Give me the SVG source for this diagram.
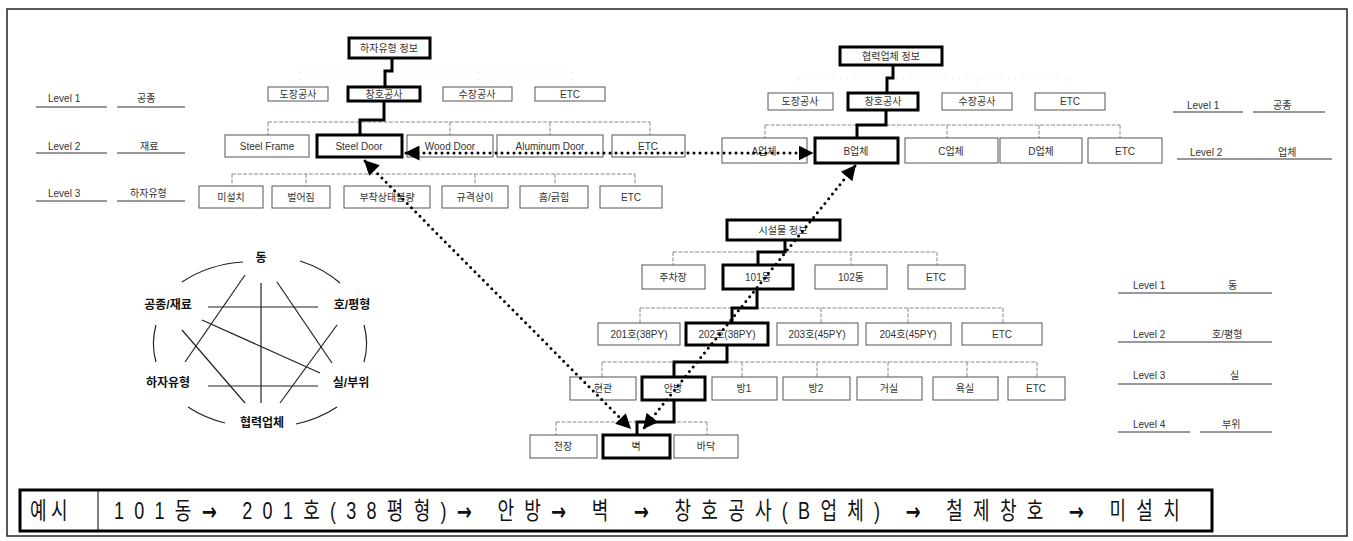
<svg xmlns="http://www.w3.org/2000/svg" width="1353" height="541" viewBox="0 0 1353 541">
  <defs>
    <style>
      text { font-family: "Liberation Sans", "Noto Sans CJK KR", sans-serif; }
      .frame { fill: none; stroke: #222; stroke-width: 1.5; }
      .box { fill: #fff; stroke: #555; stroke-width: 1; }
      .bold { fill: #fff; stroke: #000; stroke-width: 3; }
      .t { font-size: 10px; fill: #333; text-anchor: middle; dominant-baseline: central; }
      .bus { fill: none; stroke: #8a8a8a; stroke-width: 1; stroke-dasharray: 4 1.5; }
      .faint { fill: none; stroke: #dcdcdc; stroke-width: 1; stroke-dasharray: 1 6; }
      .main { fill: none; stroke: #000; stroke-width: 3; stroke-linejoin: miter; }
      .dots { fill: none; stroke: #000; stroke-width: 3; stroke-linecap: round; stroke-dasharray: 0 6; }
      .lvl { font-size: 10px; fill: #333; }
      .ul { stroke: #333; stroke-width: 1; }
      .cl { font-size: 12px; font-weight: bold; fill: #111; text-anchor: middle; dominant-baseline: central; }
      .arc { fill: none; stroke: #222; stroke-width: 1.2; }
      .ln { stroke: #222; stroke-width: 1.2; }
      .ex { font-size: 24px; fill: #111; dominant-baseline: central; }
      .arw { font-family: "DejaVu Sans", sans-serif; font-weight: bold; }
    </style>
    <marker id="tip" viewBox="0 0 10 10" refX="9" refY="5" markerWidth="5" markerHeight="5" orient="auto-start-reverse" markerUnits="strokeWidth">
      <path d="M0,0 L10,5 L0,10 z" fill="#000"/>
    </marker>
  </defs>

  <rect class="frame" x="7" y="9" width="1340" height="527"/>

  <!-- level legends -->
  <g id="legend-defect">
    <text class="lvl" x="48" y="102">Level 1</text><line class="ul" x1="36" y1="107" x2="107" y2="107"/>
    <text class="lvl" x="137" y="102">공종</text><line class="ul" x1="117" y1="107" x2="185" y2="107"/>
    <text class="lvl" x="48" y="150">Level 2</text><line class="ul" x1="36" y1="153" x2="107" y2="153"/>
    <text class="lvl" x="140" y="150">재료</text><line class="ul" x1="117" y1="153" x2="185" y2="153"/>
    <text class="lvl" x="48" y="197">Level 3</text><line class="ul" x1="36" y1="201" x2="107" y2="201"/>
    <text class="lvl" x="130" y="197">하자유형</text><line class="ul" x1="117" y1="201" x2="185" y2="201"/>
  </g>
  <g id="legend-partner">
    <text class="lvl" x="1187" y="109">Level 1</text><line class="ul" x1="1173" y1="112" x2="1243" y2="112"/>
    <text class="lvl" x="1273" y="109">공종</text><line class="ul" x1="1253" y1="112" x2="1325" y2="112"/>
    <text class="lvl" x="1190" y="156">Level 2</text><line class="ul" x1="1177" y1="159" x2="1332" y2="159"/>
    <text class="lvl" x="1278" y="156">업체</text>
  </g>
  <g id="legend-facility">
    <text class="lvl" x="1133" y="289">Level 1</text><line class="ul" x1="1118" y1="293" x2="1272" y2="293"/>
    <text class="lvl" x="1228" y="289">동</text>
    <text class="lvl" x="1133" y="338">Level 2</text><line class="ul" x1="1118" y1="342" x2="1272" y2="342"/>
    <text class="lvl" x="1212" y="338">호/평형</text>
    <text class="lvl" x="1133" y="379">Level 3</text><line class="ul" x1="1118" y1="384" x2="1272" y2="384"/>
    <text class="lvl" x="1230" y="379">실</text>
    <text class="lvl" x="1133" y="428">Level 4</text><line class="ul" x1="1118" y1="432" x2="1190" y2="432"/><line class="ul" x1="1200" y1="432" x2="1272" y2="432"/>
    <text class="lvl" x="1222" y="428">부위</text>
  </g>

  <!-- tree connectors -->
  <g id="connectors">
    <!-- defect type tree -->
    <path class="faint" d="M300,72 H572 M300,72 V86 M478,72 V86 M572,72 V86"/>
    <path class="bus" d="M268,122 H650 M268,122 V135 M450,122 V135 M550,122 V135 M650,122 V135"/>
    <path class="bus" d="M232,174 H635 M232,174 V186 M306,174 V186 M475,174 V186 M555,174 V186 M635,174 V186"/>
    <path class="main" d="M392,58 V71 H385 V87"/>
    <path class="main" d="M384,100 V120 H360 V135"/>
    <!-- partner tree -->
    <path class="faint" d="M798,78 H1070 M798,78 V93 M977,78 V93 M1070,78 V93"/>
    <path class="bus" d="M765,125 H1120 M765,125 V138 M947,125 V138 M1039,125 V138 M1120,125 V138"/>
    <path class="main" d="M893,65 V78 H887 V93"/>
    <path class="main" d="M886,110 V125 H857 V138"/>
    <!-- facility tree -->
    <path class="bus" d="M673,252 H937 M673,252 V265 M851,252 V265 M937,252 V265"/>
    <path class="bus" d="M640,308 H1003 M640,308 V323 M821,308 V323 M908,308 V323 M1003,308 V323"/>
    <path class="bus" d="M602,362 H1037 M602,362 V377 M742,362 V377 M817,362 V377 M888,362 V377 M967,362 V377 M1037,362 V377"/>
    <path class="bus" d="M556,422 H707 M556,422 V435 M707,422 V435"/>
    <path class="main" d="M785,240 V252 H758 V265"/>
    <path class="main" d="M757,289 V308 H732 V323"/>
    <path class="main" d="M727,345 V362 H674 V377"/>
    <path class="main" d="M674,400 V422 H637 V435"/>
  </g>

  <!-- defect type tree nodes -->
  <g id="defect-root"><rect class="bold" x="349" y="38" width="81" height="20"/><text class="t" x="389" y="48">하자유형 정보</text></g>
  <g id="d-paint"><rect class="box" x="268" y="87" width="60" height="14"/><text class="t" x="298" y="94">도장공사</text></g>
  <g id="d-window"><rect class="bold" x="348" y="87" width="72" height="14"/><text class="t" x="384" y="94">창호공사</text></g>
  <g id="d-finish"><rect class="box" x="443" y="87" width="69" height="14"/><text class="t" x="477" y="94">수장공사</text></g>
  <g id="d-etc1"><rect class="box" x="535" y="87" width="70" height="14"/><text class="t" x="570" y="94">ETC</text></g>
  <g id="d-frame"><rect class="box" x="225" y="135" width="84" height="22"/><text class="t" x="267" y="146">Steel Frame</text></g>
  <g id="d-steeldoor"><rect class="bold" x="317" y="135" width="85" height="22"/><text class="t" x="359" y="146">Steel Door</text></g>
  <g id="d-wood"><rect class="box" x="407" y="135" width="86" height="22"/><text class="t" x="450" y="146">Wood Door</text></g>
  <g id="d-alu"><rect class="box" x="497" y="135" width="106" height="22"/><text class="t" x="550" y="146">Aluminum Door</text></g>
  <g id="d-etc2"><rect class="box" x="612" y="135" width="73" height="22"/><text class="t" x="648" y="146">ETC</text></g>
  <g id="d-missing"><rect class="box" x="199" y="186" width="64" height="22"/><text class="t" x="231" y="197">미설치</text></g>
  <g id="d-gap"><rect class="box" x="272" y="186" width="58" height="22"/><text class="t" x="301" y="197">벌어짐</text></g>
  <g id="d-attach"><rect class="box" x="344" y="186" width="86" height="22"/><text class="t" x="387" y="197">부착상태불량</text></g>
  <g id="d-size"><rect class="box" x="442" y="186" width="66" height="22"/><text class="t" x="475" y="197">규격상이</text></g>
  <g id="d-scratch"><rect class="box" x="520" y="186" width="68" height="22"/><text class="t" x="554" y="197">흠/긁힘</text></g>
  <g id="d-etc3"><rect class="box" x="600" y="186" width="62" height="22"/><text class="t" x="631" y="197">ETC</text></g>

  <!-- partner tree nodes -->
  <g id="partner-root"><rect class="bold" x="840" y="47" width="102" height="18"/><text class="t" x="891" y="56">협력업체 정보</text></g>
  <g id="p-paint"><rect class="box" x="768" y="93" width="65" height="17"/><text class="t" x="800" y="101">도장공사</text></g>
  <g id="p-window"><rect class="bold" x="848" y="93" width="70" height="17"/><text class="t" x="883" y="101">창호공사</text></g>
  <g id="p-finish"><rect class="box" x="942" y="93" width="70" height="17"/><text class="t" x="977" y="101">수장공사</text></g>
  <g id="p-etc1"><rect class="box" x="1035" y="93" width="70" height="17"/><text class="t" x="1070" y="101">ETC</text></g>
  <g id="p-a"><rect class="box" x="722" y="138" width="85" height="25"/><text class="t" x="764" y="151">A업체</text></g>
  <g id="p-b"><rect class="bold" x="815" y="138" width="83" height="25"/><text class="t" x="856" y="151">B업체</text></g>
  <g id="p-c"><rect class="box" x="905" y="138" width="93" height="25"/><text class="t" x="951" y="151">C업체</text></g>
  <g id="p-d"><rect class="box" x="1000" y="138" width="82" height="25"/><text class="t" x="1041" y="151">D업체</text></g>
  <g id="p-etc2"><rect class="box" x="1088" y="138" width="74" height="25"/><text class="t" x="1125" y="151">ETC</text></g>

  <!-- facility tree nodes -->
  <g id="facility-root"><rect class="bold" x="727" y="220" width="113" height="20"/><text class="t" x="783" y="230">시설물 정보</text></g>
  <g id="f-parking"><rect class="box" x="642" y="265" width="63" height="24"/><text class="t" x="673" y="277">주차장</text></g>
  <g id="f-101"><rect class="bold" x="723" y="265" width="70" height="24"/><text class="t" x="758" y="277">101동</text></g>
  <g id="f-102"><rect class="box" x="815" y="265" width="72" height="24"/><text class="t" x="851" y="277">102동</text></g>
  <g id="f-etc1"><rect class="box" x="908" y="265" width="57" height="24"/><text class="t" x="936" y="277">ETC</text></g>
  <g id="f-201"><rect class="box" x="598" y="323" width="82" height="22"/><text class="t" x="639" y="334">201호(38PY)</text></g>
  <g id="f-202"><rect class="bold" x="686" y="323" width="82" height="22"/><text class="t" x="727" y="334">202호(38PY)</text></g>
  <g id="f-203"><rect class="box" x="777" y="323" width="81" height="22"/><text class="t" x="817" y="334">203호(45PY)</text></g>
  <g id="f-204"><rect class="box" x="866" y="323" width="85" height="22"/><text class="t" x="908" y="334">204호(45PY)</text></g>
  <g id="f-etc2"><rect class="box" x="962" y="323" width="80" height="22"/><text class="t" x="1002" y="334">ETC</text></g>
  <g id="f-entry"><rect class="box" x="570" y="377" width="66" height="23"/><text class="t" x="603" y="388">현관</text></g>
  <g id="f-master"><rect class="bold" x="642" y="377" width="63" height="23"/><text class="t" x="673" y="388">안방</text></g>
  <g id="f-room1"><rect class="box" x="712" y="377" width="65" height="23"/><text class="t" x="744" y="388">방1</text></g>
  <g id="f-room2"><rect class="box" x="783" y="377" width="67" height="23"/><text class="t" x="816" y="388">방2</text></g>
  <g id="f-living"><rect class="box" x="857" y="377" width="65" height="23"/><text class="t" x="889" y="388">거실</text></g>
  <g id="f-bath"><rect class="box" x="933" y="377" width="65" height="23"/><text class="t" x="965" y="388">욕실</text></g>
  <g id="f-etc3"><rect class="box" x="1008" y="377" width="57" height="23"/><text class="t" x="1036" y="388">ETC</text></g>
  <g id="f-ceiling"><rect class="box" x="530" y="435" width="67" height="23"/><text class="t" x="563" y="446">천장</text></g>
  <g id="f-wall"><rect class="bold" x="603" y="435" width="67" height="23"/><text class="t" x="636" y="446">벽</text></g>
  <g id="f-floor"><rect class="box" x="674" y="435" width="64" height="23"/><text class="t" x="706" y="446">바닥</text></g>

  <!-- dotted cross links between trees -->
  <g id="links">
    <line class="dots" x1="406" y1="153" x2="812" y2="153" marker-start="url(#tip)" marker-end="url(#tip)"/>
    <line class="dots" x1="365" y1="161" x2="630" y2="428" marker-start="url(#tip)" marker-end="url(#tip)"/>
    <line class="dots" x1="855" y1="166" x2="644" y2="428" marker-start="url(#tip)" marker-end="url(#tip)"/>
  </g>

  <!-- relation wheel -->
  <g id="wheel">
    <path class="arc" d="M182,282 A108,85 0 0 1 243,262"/>
    <path class="arc" d="M300,261 A108,85 0 0 1 340,283"/>
    <path class="arc" d="M156,325 A108,85 0 0 0 156,362"/>
    <path class="arc" d="M364,325 A108,85 0 0 1 364,362"/>
    <path class="arc" d="M188,407 A108,85 0 0 0 225,423"/>
    <path class="arc" d="M296,424 A108,85 0 0 0 337,407"/>
    <line class="ln" x1="261" y1="283" x2="261" y2="403"/>
    <line class="ln" x1="208" y1="307" x2="318" y2="307"/>
    <line class="ln" x1="208" y1="386" x2="318" y2="386"/>
    <line class="ln" x1="202" y1="320" x2="320" y2="373"/>
    <line class="ln" x1="245" y1="275" x2="185" y2="362"/>
    <line class="ln" x1="277" y1="282" x2="332" y2="363"/>
    <line class="ln" x1="182" y1="330" x2="245" y2="403"/>
    <line class="ln" x1="337" y1="325" x2="280" y2="403"/>
    <text class="cl" x="261" y="258">동</text>
    <text class="cl" x="168" y="305">공종/재료</text>
    <text class="cl" x="352" y="305">호/평형</text>
    <text class="cl" x="168" y="383">하자유형</text>
    <text class="cl" x="351" y="383">실/부위</text>
    <text class="cl" x="262" y="423">협력업체</text>
  </g>

  <!-- example path -->
  <g id="example">
    <rect x="20" y="490" width="1192" height="41" fill="#fff" stroke="#000" stroke-width="3"/>
    <line x1="98" y1="490" x2="98" y2="531" stroke="#000" stroke-width="1"/>
    <text class="ex" transform="translate(30,511) scale(0.75,1)" x="0" y="0" letter-spacing="6">예시</text>
    <text class="ex" transform="translate(114,511) scale(0.75,1)" x="0" y="0" textLength="1421" lengthAdjust="spacing">101동<tspan class="arw">→</tspan> 201호(38평형)<tspan class="arw">→</tspan> 안방<tspan class="arw">→</tspan>  벽 <tspan class="arw">→</tspan> 창호공사(B업체) <tspan class="arw">→</tspan> 철제창호 <tspan class="arw">→</tspan> 미설치</text>
  </g>
</svg>
